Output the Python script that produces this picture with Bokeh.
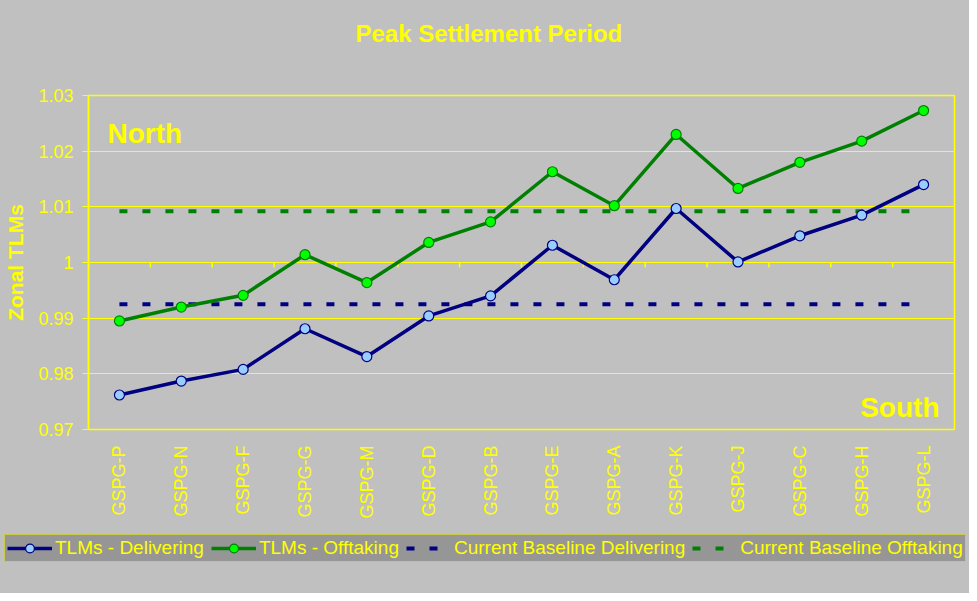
from math import pi
from bokeh.plotting import figure
from bokeh.layouts import column
from bokeh.models import (FixedTicker, NumeralTickFormatter, Label, Legend, LegendItem,
                          ColumnDataSource, Range1d, FactorRange, Title)
from bokeh.transform import dodge
from bokeh.embed import file_html
from bokeh.resources import INLINE

# ---------------- data ----------------
categories = ["GSPG-P", "GSPG-N", "GSPG-F", "GSPG-G", "GSPG-M", "GSPG-D", "GSPG-B",
              "GSPG-E", "GSPG-A", "GSPG-K", "GSPG-J", "GSPG-C", "GSPG-H", "GSPG-L"]
tlm_delivering = [0.9762, 0.9787, 0.9808, 0.9881, 0.9831, 0.9904, 0.9940,
                  1.0031, 0.9969, 1.0097, 1.0001, 1.0048, 1.0085, 1.0140]
tlm_offtaking = [0.9895, 0.9920, 0.9941, 1.0014, 0.9964, 1.0036, 1.0073,
                 1.0163, 1.0102, 1.0230, 1.0133, 1.0180, 1.0218, 1.0273]
baseline_delivering = 0.9925
baseline_offtaking = 1.0092
y_ticks = [0.97, 0.98, 0.99, 1.00, 1.01, 1.02, 1.03]
y_min, y_max = 0.97, 1.03
x_axis_cross = 1.0

FONT = "Liberation Sans"
YELLOW = "#FFFF00"
BG = "#C0C0C0"
NAVY = "#000080"
GREEN = "#008000"

src = ColumnDataSource(dict(
    cat=categories,
    deliv=tlm_delivering,
    offt=tlm_offtaking,
    base_d=[baseline_delivering] * len(categories),
    base_o=[baseline_offtaking] * len(categories),
    cross=[x_axis_cross] * len(categories),
))
last_src = ColumnDataSource(dict(cat=[categories[-1]], cross=[x_axis_cross]))

p = figure(width=969, height=530,
           x_range=FactorRange(*categories, range_padding=0),
           y_range=Range1d(y_min, y_max),
           output_backend="svg", toolbar_location=None,
           min_border_left=88, min_border_right=15,
           min_border_top=95, min_border_bottom=101)
p.frame_align = False

p.background_fill_color = BG
p.border_fill_color = BG
p.outline_line_color = YELLOW
p.outline_line_width = 1.5

# title (outermost) + spacer title between it and the plot frame
p.title.text = "Peak Settlement Period"
p.title.align = "left"
p.title.offset = 267
p.title.vertical_align = "top"
p.title.standoff = 0
p.title.text_color = YELLOW
p.title.text_font = FONT
p.title.text_font_size = "24px"
p.title.text_font_style = "bold"
p.add_layout(Title(text=" ", text_font_size="10px", standoff=34, text_color=BG), "above")

# grid
p.xgrid.grid_line_color = None
p.ygrid.grid_line_color = YELLOW
p.ygrid.grid_line_width = 1
p.ygrid.ticker = FixedTicker(ticks=y_ticks)

# y axis
p.yaxis.ticker = FixedTicker(ticks=y_ticks)
p.yaxis.formatter = NumeralTickFormatter(format="0.[00]")
p.yaxis.axis_line_color = YELLOW
p.yaxis.axis_line_width = 1.5
p.yaxis.major_tick_line_color = YELLOW
p.yaxis.major_tick_in = 0
p.yaxis.major_tick_out = 6
p.yaxis.minor_tick_line_color = None
p.yaxis.major_label_text_color = YELLOW
p.yaxis.major_label_text_font = FONT
p.yaxis.major_label_text_font_size = "18px"
p.yaxis.major_label_standoff = 9
p.yaxis.axis_label = "Zonal TLMs"
p.yaxis.axis_label_text_color = YELLOW
p.yaxis.axis_label_text_font = FONT
p.yaxis.axis_label_text_font_size = "21px"
p.yaxis.axis_label_text_font_style = "bold"
p.yaxis.axis_label_standoff = 8

# x axis (labels at bottom)
p.xaxis.axis_line_color = None
p.xaxis.major_tick_line_color = None
p.xaxis.minor_tick_line_color = None
p.xaxis.major_label_orientation = pi / 2
p.xaxis.major_label_text_color = YELLOW
p.xaxis.major_label_text_font = FONT
p.xaxis.major_label_text_font_size = "18px"
p.xaxis.major_label_standoff = 10

# category-axis tick marks crossing at y = 1
p.ray(x=dodge("cat", -0.5, range=p.x_range), y="cross", length=5, length_units="screen",
      angle=-pi / 2, line_color=YELLOW, line_width=1.5, source=src)
p.ray(x=dodge("cat", 0.5, range=p.x_range), y="cross", length=5, length_units="screen",
      angle=-pi / 2, line_color=YELLOW, line_width=1.5, source=last_src)


def draw_series(fig):
    bd = fig.line("cat", "base_d", source=src, line_color=NAVY, line_width=4, line_dash="8 15")
    bo = fig.line("cat", "base_o", source=src, line_color=GREEN, line_width=4, line_dash="8 15")
    dl = fig.line("cat", "deliv", source=src, line_color=NAVY, line_width=3.5)
    ol = fig.line("cat", "offt", source=src, line_color=GREEN, line_width=3.5)
    dm = fig.scatter("cat", "deliv", source=src, size=10, fill_color="#99CCFF",
                     line_color=NAVY, line_width=1.2)
    om = fig.scatter("cat", "offt", source=src, size=10, fill_color="#00FF00",
                     line_color=GREEN, line_width=1.2)
    return bd, bo, dl, ol, dm, om


draw_series(p)

# region labels
p.add_layout(Label(x=19, y=296, x_units="screen", y_units="screen",
                   text="North", text_color=YELLOW, text_font=FONT,
                   text_font_size="28px", text_font_style="bold",
                   text_baseline="alphabetic"))
p.add_layout(Label(x=851, y=22, x_units="screen", y_units="screen",
                   text="South", text_color=YELLOW, text_font=FONT,
                   text_font_size="28px", text_font_style="bold",
                   text_baseline="alphabetic", text_align="right"))

# legend strip (second figure below, series kept out of its view)
q = figure(width=969, height=63,
           x_range=p.x_range, y_range=Range1d(10, 11),
           output_backend="svg", toolbar_location=None,
           x_axis_location=None, y_axis_location=None,
           min_border=0, min_border_left=0, min_border_right=0,
           min_border_top=0, min_border_bottom=0)
q.frame_align = False
q.background_fill_color = BG
q.border_fill_color = BG
q.outline_line_color = None
q.grid.visible = False
r_bd, r_bo, r_dl, r_ol, r_dm, r_om = draw_series(q)

legend = Legend(items=[
    LegendItem(label="TLMs - Delivering", renderers=[r_dl, r_dm]),
    LegendItem(label="TLMs - Offtaking", renderers=[r_ol, r_om]),
    LegendItem(label="Current Baseline Delivering", renderers=[r_bd]),
    LegendItem(label="Current Baseline Offtaking", renderers=[r_bo]),
], orientation="horizontal", location="top_left", margin=4, padding=2,
    background_fill_color="#969696", background_fill_alpha=1,
    border_line_color=YELLOW, border_line_width=1.5,
    label_text_color=YELLOW, label_text_font=FONT, label_text_font_size="19px",
    glyph_width=45, glyph_height=22, label_height=20, label_standoff=3, spacing=7)
q.add_layout(legend, "center")

layout = column(p, q, spacing=0, styles={"background-color": BG})
open("out.html", "w").write(file_html(layout, INLINE))
